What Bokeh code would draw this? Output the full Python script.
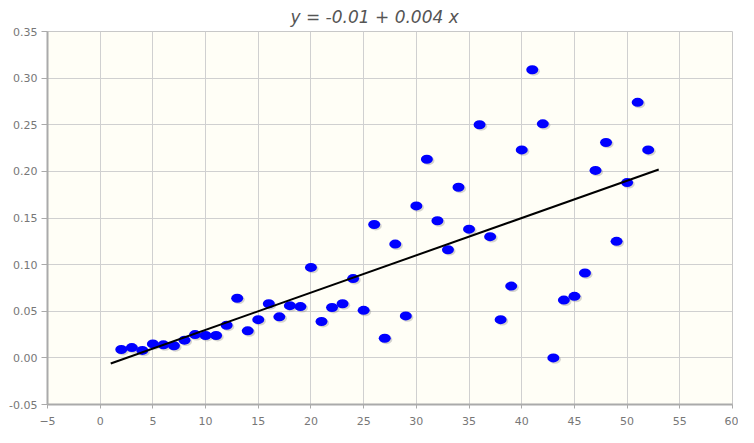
from bokeh.plotting import figure
from bokeh.models import FixedTicker, NumeralTickFormatter, Title, ColumnDataSource
from bokeh.transform import dodge
from bokeh.embed import file_html
from bokeh.resources import INLINE

x_vals = [2, 3, 4, 5, 6, 7, 8, 9, 10, 11, 12, 13, 14, 15, 16, 17, 18, 19, 20,
          21, 22, 23, 24, 25, 26, 27, 28, 29, 30, 31, 32, 33, 34, 35, 36, 37,
          38, 39, 40, 41, 42, 43, 44, 45, 46, 47, 48, 49, 50, 51, 52]
y_vals = [0.009, 0.011, 0.008, 0.015, 0.014, 0.013, 0.019, 0.025, 0.024, 0.024,
          0.035, 0.064, 0.029, 0.041, 0.058, 0.044, 0.056, 0.055, 0.097, 0.039,
          0.054, 0.058, 0.085, 0.051, 0.143, 0.021, 0.122, 0.045, 0.163, 0.213,
          0.147, 0.116, 0.183, 0.138, 0.250, 0.130, 0.041, 0.077, 0.223, 0.309,
          0.251, 0.000, 0.062, 0.066, 0.091, 0.201, 0.231, 0.125, 0.188, 0.274,
          0.223]
intercept = -0.01
slope = 0.004
fit_x = [1, 53]
fit_y = [intercept + slope * v for v in fit_x]
x_ticks = list(range(-5, 61, 5))
y_ticks = [-0.05, 0.0, 0.05, 0.10, 0.15, 0.20, 0.25, 0.30, 0.35]

src = ColumnDataSource(dict(x=x_vals, y=y_vals))

p = figure(width=738, height=427, output_backend="svg", toolbar_location=None,
           x_range=(-5, 60), y_range=(-0.05, 0.35),
           min_border_left=47, min_border_right=6, min_border_top=30, min_border_bottom=23)

t = Title(text="y = -0.01 + 0.004 x", align="left", text_font="DejaVu Sans",
          text_font_style="italic", text_font_size="17px", text_color="#555555",
          offset=243, standoff=9)
p.add_layout(t, "above")

p.background_fill_color = "#FFFEF6"
p.border_fill_color = "white"
p.outline_line_color = "#c8c8c8"
p.outline_line_width = 1

for ax in (p.xaxis[0], p.yaxis[0]):
    ax.axis_line_color = "#aaaaaa"
    ax.axis_line_width = 2
    ax.major_tick_line_color = "#aaaaaa"
    ax.minor_tick_line_color = None
    ax.major_tick_in = 0
    ax.major_label_text_font = "DejaVu Sans"
    ax.major_label_text_font_size = "11px"
    ax.major_label_text_color = "#777777"

p.xaxis.ticker = FixedTicker(ticks=x_ticks)
p.yaxis.ticker = FixedTicker(ticks=y_ticks)
p.yaxis.formatter = NumeralTickFormatter(format="0.00")
p.xaxis.major_tick_out = 4
p.yaxis.major_tick_out = 6
p.xaxis.major_label_standoff = 8
p.yaxis.major_label_standoff = 4

p.grid.grid_line_color = "#d0d0d0"
p.grid.grid_line_width = 1

# shadow
p.ellipse(x=dodge("x", 0.15), y=dodge("y", -0.0015), width=12, height=9,
          width_units="screen", height_units="screen", source=src,
          fill_color="#888888", fill_alpha=0.35, line_color=None)
p.ellipse(x="x", y="y", width=12, height=9, width_units="screen", height_units="screen",
          source=src, fill_color="#0000ff", line_color=None)

p.line(fit_x, fit_y, line_color="black", line_width=2)

open("out.html", "w").write(file_html(p, INLINE))
